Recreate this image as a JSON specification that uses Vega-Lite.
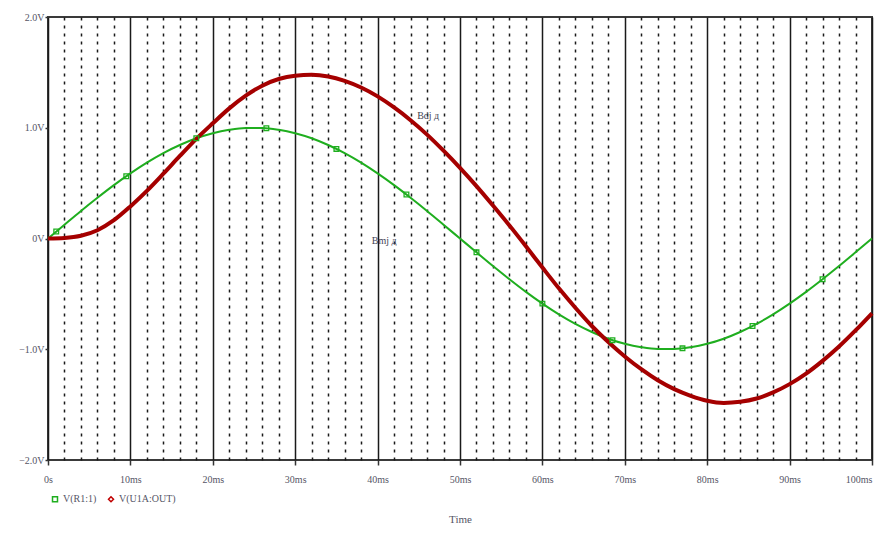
{
  "$schema": "https://vega.github.io/schema/vega-lite/v6.json",
  "width": 824,
  "height": 443,
  "autosize": {"type": "none"},
  "padding": {"left": 48, "top": 17, "right": 2, "bottom": 74},
  "background": "white",
  "config": {
    "view": {"stroke": "#3a3a3a", "strokeWidth": 2},
    "font": "Liberation Serif",
    "legend": {
      "orient": "none", "legendX": 2, "legendY": 477, "direction": "horizontal",
      "labelFont": "Liberation Serif", "labelFontSize": 10, "labelColor": "#555566",
      "symbolSize": 25, "symbolStrokeWidth": 1.5, "labelOffset": 3, "columnPadding": 8, "padding": 0
    }
  },
  "datasets": {
    "curves": [
      {"t": 0, "v": 0, "s": "V(R1:1)"}, {"t": 2, "v": 0.125, "s": "V(R1:1)"}, {"t": 4, "v": 0.249, "s": "V(R1:1)"}, {"t": 6, "v": 0.368, "s": "V(R1:1)"}, {"t": 8, "v": 0.482, "s": "V(R1:1)"},
      {"t": 10, "v": 0.588, "s": "V(R1:1)"}, {"t": 12, "v": 0.685, "s": "V(R1:1)"}, {"t": 14, "v": 0.771, "s": "V(R1:1)"}, {"t": 16, "v": 0.844, "s": "V(R1:1)"}, {"t": 18, "v": 0.905, "s": "V(R1:1)"},
      {"t": 20, "v": 0.951, "s": "V(R1:1)"}, {"t": 22, "v": 0.982, "s": "V(R1:1)"}, {"t": 24, "v": 0.998, "s": "V(R1:1)"}, {"t": 26, "v": 0.998, "s": "V(R1:1)"}, {"t": 28, "v": 0.982, "s": "V(R1:1)"},
      {"t": 30, "v": 0.951, "s": "V(R1:1)"}, {"t": 32, "v": 0.905, "s": "V(R1:1)"}, {"t": 34, "v": 0.844, "s": "V(R1:1)"}, {"t": 36, "v": 0.771, "s": "V(R1:1)"}, {"t": 38, "v": 0.685, "s": "V(R1:1)"},
      {"t": 40, "v": 0.588, "s": "V(R1:1)"}, {"t": 42, "v": 0.482, "s": "V(R1:1)"}, {"t": 44, "v": 0.368, "s": "V(R1:1)"}, {"t": 46, "v": 0.249, "s": "V(R1:1)"}, {"t": 48, "v": 0.125, "s": "V(R1:1)"},
      {"t": 50, "v": 0, "s": "V(R1:1)"}, {"t": 52, "v": -0.125, "s": "V(R1:1)"}, {"t": 54, "v": -0.249, "s": "V(R1:1)"}, {"t": 56, "v": -0.368, "s": "V(R1:1)"}, {"t": 58, "v": -0.482, "s": "V(R1:1)"},
      {"t": 60, "v": -0.588, "s": "V(R1:1)"}, {"t": 62, "v": -0.685, "s": "V(R1:1)"}, {"t": 64, "v": -0.771, "s": "V(R1:1)"}, {"t": 66, "v": -0.844, "s": "V(R1:1)"}, {"t": 68, "v": -0.905, "s": "V(R1:1)"},
      {"t": 70, "v": -0.951, "s": "V(R1:1)"}, {"t": 72, "v": -0.982, "s": "V(R1:1)"}, {"t": 74, "v": -0.998, "s": "V(R1:1)"}, {"t": 76, "v": -0.998, "s": "V(R1:1)"}, {"t": 78, "v": -0.982, "s": "V(R1:1)"},
      {"t": 80, "v": -0.951, "s": "V(R1:1)"}, {"t": 82, "v": -0.905, "s": "V(R1:1)"}, {"t": 84, "v": -0.844, "s": "V(R1:1)"}, {"t": 86, "v": -0.771, "s": "V(R1:1)"}, {"t": 88, "v": -0.685, "s": "V(R1:1)"},
      {"t": 90, "v": -0.588, "s": "V(R1:1)"}, {"t": 92, "v": -0.482, "s": "V(R1:1)"}, {"t": 94, "v": -0.368, "s": "V(R1:1)"}, {"t": 96, "v": -0.249, "s": "V(R1:1)"}, {"t": 98, "v": -0.125, "s": "V(R1:1)"},
      {"t": 100, "v": 0, "s": "V(R1:1)"},
      {"t": 0, "v": 0, "s": "V(U1A:OUT)"}, {"t": 2, "v": 0.005, "s": "V(U1A:OUT)"}, {"t": 4, "v": 0.025, "s": "V(U1A:OUT)"}, {"t": 6, "v": 0.075, "s": "V(U1A:OUT)"}, {"t": 8, "v": 0.165, "s": "V(U1A:OUT)"},
      {"t": 10, "v": 0.29, "s": "V(U1A:OUT)"}, {"t": 12, "v": 0.43, "s": "V(U1A:OUT)"}, {"t": 14, "v": 0.585, "s": "V(U1A:OUT)"}, {"t": 16, "v": 0.745, "s": "V(U1A:OUT)"}, {"t": 18, "v": 0.9, "s": "V(U1A:OUT)"},
      {"t": 20, "v": 1.04, "s": "V(U1A:OUT)"}, {"t": 22, "v": 1.175, "s": "V(U1A:OUT)"}, {"t": 24, "v": 1.29, "s": "V(U1A:OUT)"}, {"t": 26, "v": 1.38, "s": "V(U1A:OUT)"}, {"t": 28, "v": 1.44, "s": "V(U1A:OUT)"},
      {"t": 30, "v": 1.47, "s": "V(U1A:OUT)"}, {"t": 32, "v": 1.478, "s": "V(U1A:OUT)"}, {"t": 34, "v": 1.463, "s": "V(U1A:OUT)"}, {"t": 36, "v": 1.423, "s": "V(U1A:OUT)"}, {"t": 38, "v": 1.363, "s": "V(U1A:OUT)"},
      {"t": 40, "v": 1.283, "s": "V(U1A:OUT)"}, {"t": 42, "v": 1.183, "s": "V(U1A:OUT)"}, {"t": 44, "v": 1.068, "s": "V(U1A:OUT)"}, {"t": 46, "v": 0.938, "s": "V(U1A:OUT)"}, {"t": 48, "v": 0.793, "s": "V(U1A:OUT)"},
      {"t": 50, "v": 0.638, "s": "V(U1A:OUT)"}, {"t": 52, "v": 0.473, "s": "V(U1A:OUT)"}, {"t": 54, "v": 0.298, "s": "V(U1A:OUT)"}, {"t": 56, "v": 0.118, "s": "V(U1A:OUT)"}, {"t": 58, "v": -0.07, "s": "V(U1A:OUT)"},
      {"t": 60, "v": -0.262, "s": "V(U1A:OUT)"}, {"t": 62, "v": -0.45, "s": "V(U1A:OUT)"}, {"t": 64, "v": -0.625, "s": "V(U1A:OUT)"}, {"t": 66, "v": -0.79, "s": "V(U1A:OUT)"}, {"t": 68, "v": -0.935, "s": "V(U1A:OUT)"},
      {"t": 70, "v": -1.065, "s": "V(U1A:OUT)"}, {"t": 72, "v": -1.18, "s": "V(U1A:OUT)"}, {"t": 74, "v": -1.28, "s": "V(U1A:OUT)"}, {"t": 76, "v": -1.36, "s": "V(U1A:OUT)"}, {"t": 78, "v": -1.42, "s": "V(U1A:OUT)"},
      {"t": 80, "v": -1.465, "s": "V(U1A:OUT)"}, {"t": 82, "v": -1.485, "s": "V(U1A:OUT)"}, {"t": 84, "v": -1.475, "s": "V(U1A:OUT)"}, {"t": 86, "v": -1.445, "s": "V(U1A:OUT)"}, {"t": 88, "v": -1.39, "s": "V(U1A:OUT)"},
      {"t": 90, "v": -1.315, "s": "V(U1A:OUT)"}, {"t": 92, "v": -1.22, "s": "V(U1A:OUT)"}, {"t": 94, "v": -1.105, "s": "V(U1A:OUT)"}, {"t": 96, "v": -0.975, "s": "V(U1A:OUT)"}, {"t": 98, "v": -0.83, "s": "V(U1A:OUT)"},
      {"t": 100, "v": -0.675, "s": "V(U1A:OUT)"}
    ],
    "markers": [
      {"t": 1, "v": 0.063, "s": "V(R1:1)"}, {"t": 9.5, "v": 0.562, "s": "V(R1:1)"}, {"t": 18, "v": 0.905, "s": "V(R1:1)"},
      {"t": 26.5, "v": 0.996, "s": "V(R1:1)"}, {"t": 35, "v": 0.809, "s": "V(R1:1)"}, {"t": 43.5, "v": 0.397, "s": "V(R1:1)"},
      {"t": 52, "v": -0.125, "s": "V(R1:1)"}, {"t": 60, "v": -0.588, "s": "V(R1:1)"}, {"t": 68.5, "v": -0.918, "s": "V(R1:1)"},
      {"t": 77, "v": -0.992, "s": "V(R1:1)"}, {"t": 85.5, "v": -0.79, "s": "V(R1:1)"}, {"t": 94, "v": -0.368, "s": "V(R1:1)"}
    ],
    "notes": [
      {"t": 44.8, "v": 1.11, "label": "Bdj д"},
      {"t": 39.3, "v": -0.02, "label": "Bmj д"}
    ]
  },
  "encoding": {
    "x": {
      "field": "t", "type": "quantitative",
      "scale": {"domain": [0, 100], "nice": false, "zero": false},
      "axis": {
        "values": [0, 2, 4, 6, 8, 10, 12, 14, 16, 18, 20, 22, 24, 26, 28, 30, 32, 34, 36, 38, 40, 42, 44, 46, 48, 50, 52, 54, 56, 58, 60, 62, 64, 66, 68, 70, 72, 74, 76, 78, 80, 82, 84, 86, 88, 90, 92, 94, 96, 98, 100],
        "labelExpr": "datum.value % 10 === 0 ? (datum.value === 0 ? '0s' : datum.value + 'ms') : ''",
        "grid": true,
        "gridColor": "#1a1a1a",
        "gridWidth": 1.5,
        "gridOpacity": 1,
        "gridDash": {"condition": {"test": "datum.value % 10 === 0", "value": []}, "value": [3, 5]},
        "tickSize": 5,
        "tickColor": "#333333",
        "tickWidth": 1.5,
        "tickOpacity": {"condition": {"test": "datum.value % 10 === 0", "value": 1}, "value": 0},
        "domain": false,
        "labelFont": "Liberation Serif",
        "labelFontSize": 10,
        "labelColor": "#555566",
        "labelPadding": 9,
        "labelFlush": false,
        "labelOverlap": false,
        "labelAlign": {"condition": {"test": "datum.value === 100", "value": "right"}, "value": "center"},
        "title": "Time",
        "titleFont": "Liberation Serif",
        "titleFontSize": 11,
        "titleFontWeight": "normal",
        "titleColor": "#555566",
        "titlePadding": 29
      }
    },
    "y": {
      "field": "v", "type": "quantitative",
      "scale": {"domain": [-2, 2], "nice": false},
      "axis": {
        "values": [-2, -1, 0, 1, 2],
        "labelExpr": "datum.value === 0 ? '0V' : format(datum.value, '.1f') + 'V'",
        "grid": false,
        "domain": false,
        "tickSize": 3,
        "tickColor": "#333333",
        "tickWidth": 1.5,
        "labelFont": "Liberation Serif",
        "labelFontSize": 10,
        "labelColor": "#555566",
        "labelPadding": 1,
        "labelFlush": false,
        "title": null
      }
    }
  },
  "layer": [
    {
      "data": {"name": "curves"},
      "transform": [{"filter": "datum.s === 'V(R1:1)'"}],
      "mark": {"type": "line", "interpolate": "monotone", "strokeWidth": 2, "color": "#1fae1f"}
    },
    {
      "data": {"name": "curves"},
      "transform": [{"filter": "datum.s === 'V(U1A:OUT)'"}],
      "mark": {"type": "line", "interpolate": "monotone", "strokeWidth": 4, "color": "#a50000"}
    },
    {
      "data": {"name": "markers"},
      "mark": {"type": "point", "filled": false, "size": 22, "strokeWidth": 1.3, "opacity": 1},
      "encoding": {
        "color": {
          "field": "s", "type": "nominal",
          "scale": {"domain": ["V(R1:1)", "V(U1A:OUT)"], "range": ["#1fae1f", "#c00000"]},
          "legend": {"title": null}
        },
        "shape": {
          "field": "s", "type": "nominal",
          "scale": {"domain": ["V(R1:1)", "V(U1A:OUT)"], "range": ["square", "diamond"]},
          "legend": {"title": null}
        }
      }
    },
    {
      "data": {"name": "notes"},
      "mark": {"type": "text", "align": "left", "baseline": "middle", "fontSize": 10, "font": "Liberation Serif", "color": "#444455"},
      "encoding": {
        "text": {"field": "label", "type": "nominal"}
      }
    }
  ]
}
